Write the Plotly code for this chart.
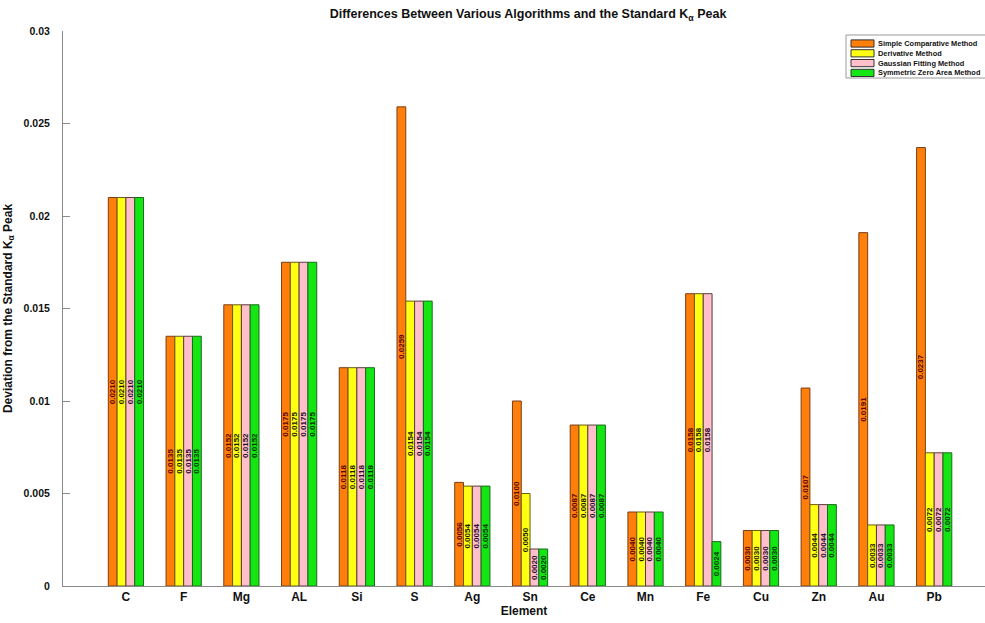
import plotly.graph_objects as go

elements = ["C", "F", "Mg", "AL", "Si", "S", "Ag", "Sn", "Ce", "Mn", "Fe", "Cu", "Zn", "Au", "Pb"]

simple_comparative = [0.0210, 0.0135, 0.0152, 0.0175, 0.0118, 0.0259, 0.0056, 0.0100,
                      0.0087, 0.0040, 0.0158, 0.0030, 0.0107, 0.0191, 0.0237]
derivative = [0.0210, 0.0135, 0.0152, 0.0175, 0.0118, 0.0154, 0.0054, 0.0050,
              0.0087, 0.0040, 0.0158, 0.0030, 0.0044, 0.0033, 0.0072]
gaussian_fitting = [0.0210, 0.0135, 0.0152, 0.0175, 0.0118, 0.0154, 0.0054, 0.0020,
                    0.0087, 0.0040, 0.0158, 0.0030, 0.0044, 0.0033, 0.0072]
symmetric_zero_area = [0.0210, 0.0135, 0.0152, 0.0175, 0.0118, 0.0154, 0.0054, 0.0020,
                       0.0087, 0.0040, 0.0024, 0.0030, 0.0044, 0.0033, 0.0072]

y_ticks = [0, 0.005, 0.01, 0.015, 0.02, 0.025, 0.03]
y_tick_labels = ["0", "0.005", "0.01", "0.015", "0.02", "0.025", "0.03"]

series = [
    ("Simple Comparative Method", simple_comparative, "#ff7f0a", "#7a3c14", "#5a0505"),
    ("Derivative Method", derivative, "#ffff14", "#6a5a18", "#1a1a00"),
    ("Gaussian Fitting Method", gaussian_fitting, "#ffc0cb", "#5a3c3c", "#2a0a2a"),
    ("Symmetric Zero Area Method", symmetric_zero_area, "#14e614", "#1a6a1a", "#003300"),
]

FONT = "Liberation Sans, Arial, Helvetica, sans-serif"
W, H = 985, 623
ML, MR, MT, MB = 63, 0, 31, 37

fig = go.Figure()
for name, vals, fill, edge, txt in series:
    fig.add_trace(go.Bar(
        name=name,
        x=elements,
        y=vals,
        marker=dict(color=fill, line=dict(color=edge, width=1)),
        text=[f"{v:.4f}" for v in vals],
        textposition="inside",
        insidetextanchor="middle",
        textangle=-90,
        textfont=dict(family=FONT, size=8, weight="bold", color=txt),
        hoverinfo="skip",
        showlegend=False,
    ))


# Compact legend box in the upper right, drawn in paper coordinates
def px_x(x):
    return (x - ML) / (W - ML - MR)


def px_y(y):
    return 1 - (y - MT) / (H - MT - MB)


shapes = [dict(type="rect", xref="paper", yref="paper",
               x0=px_x(846), x1=px_x(990), y0=px_y(78), y1=px_y(35),
               fillcolor="white", line=dict(color="#9a9a9a", width=1), layer="above")]
annotations = []
for i, (name, vals, fill, edge, txt) in enumerate(series):
    yc = 43.5 + i * 9.8
    shapes.append(dict(type="rect", xref="paper", yref="paper",
                       x0=px_x(851), x1=px_x(874), y0=px_y(yc + 3.6), y1=px_y(yc - 3.6),
                       fillcolor=fill, line=dict(color="#333333", width=1), layer="above"))
    annotations.append(dict(xref="paper", yref="paper", x=px_x(876), y=px_y(yc),
                            xanchor="left", yanchor="middle", showarrow=False,
                            text=name,
                            font=dict(family=FONT, size=7.4, weight="bold", color="#111111")))

fig.update_layout(
    width=W,
    height=H,
    margin=dict(l=ML, r=MR, t=MT, b=MB),
    paper_bgcolor="white",
    plot_bgcolor="white",
    barmode="group",
    bargap=0.39,
    bargroupgap=0,
    uniformtext=dict(mode="show", minsize=8),
    font=dict(family=FONT, color="#111111"),
    showlegend=False,
    shapes=shapes,
    annotations=annotations,
    title=dict(
        text="Differences Between Various Algorithms and the Standard K<sub>α</sub> Peak",
        x=px_x(528),
        xref="paper",
        xanchor="center",
        y=0.985,
        yanchor="top",
        font=dict(family=FONT, size=12.5, weight="bold", color="#111111"),
    ),
)

fig.update_xaxes(
    range=[-1.09, 14.88],
    showline=True,
    linecolor="#8a8a8a",
    linewidth=1,
    ticks="",
    showgrid=False,
    tickfont=dict(family=FONT, size=12, weight="bold", color="#111111"),
    title=dict(text="Element", standoff=2,
               font=dict(family=FONT, size=12, weight="bold", color="#111111")),
)

fig.update_yaxes(
    range=[0, 0.03],
    tickvals=y_ticks,
    ticktext=y_tick_labels,
    showline=True,
    linecolor="#8a8a8a",
    linewidth=1,
    ticks="inside",
    ticklen=7,
    tickcolor="#8a8a8a",
    showgrid=False,
    zeroline=False,
    ticklabelstandoff=10,
    tickfont=dict(family=FONT, size=10.5, weight="bold", color="#111111"),
    title=dict(text="Deviation from the Standard K<sub>α</sub> Peak", standoff=8,
               font=dict(family=FONT, size=12, weight="bold", color="#111111")),
)

fig.write_html("out.html")
